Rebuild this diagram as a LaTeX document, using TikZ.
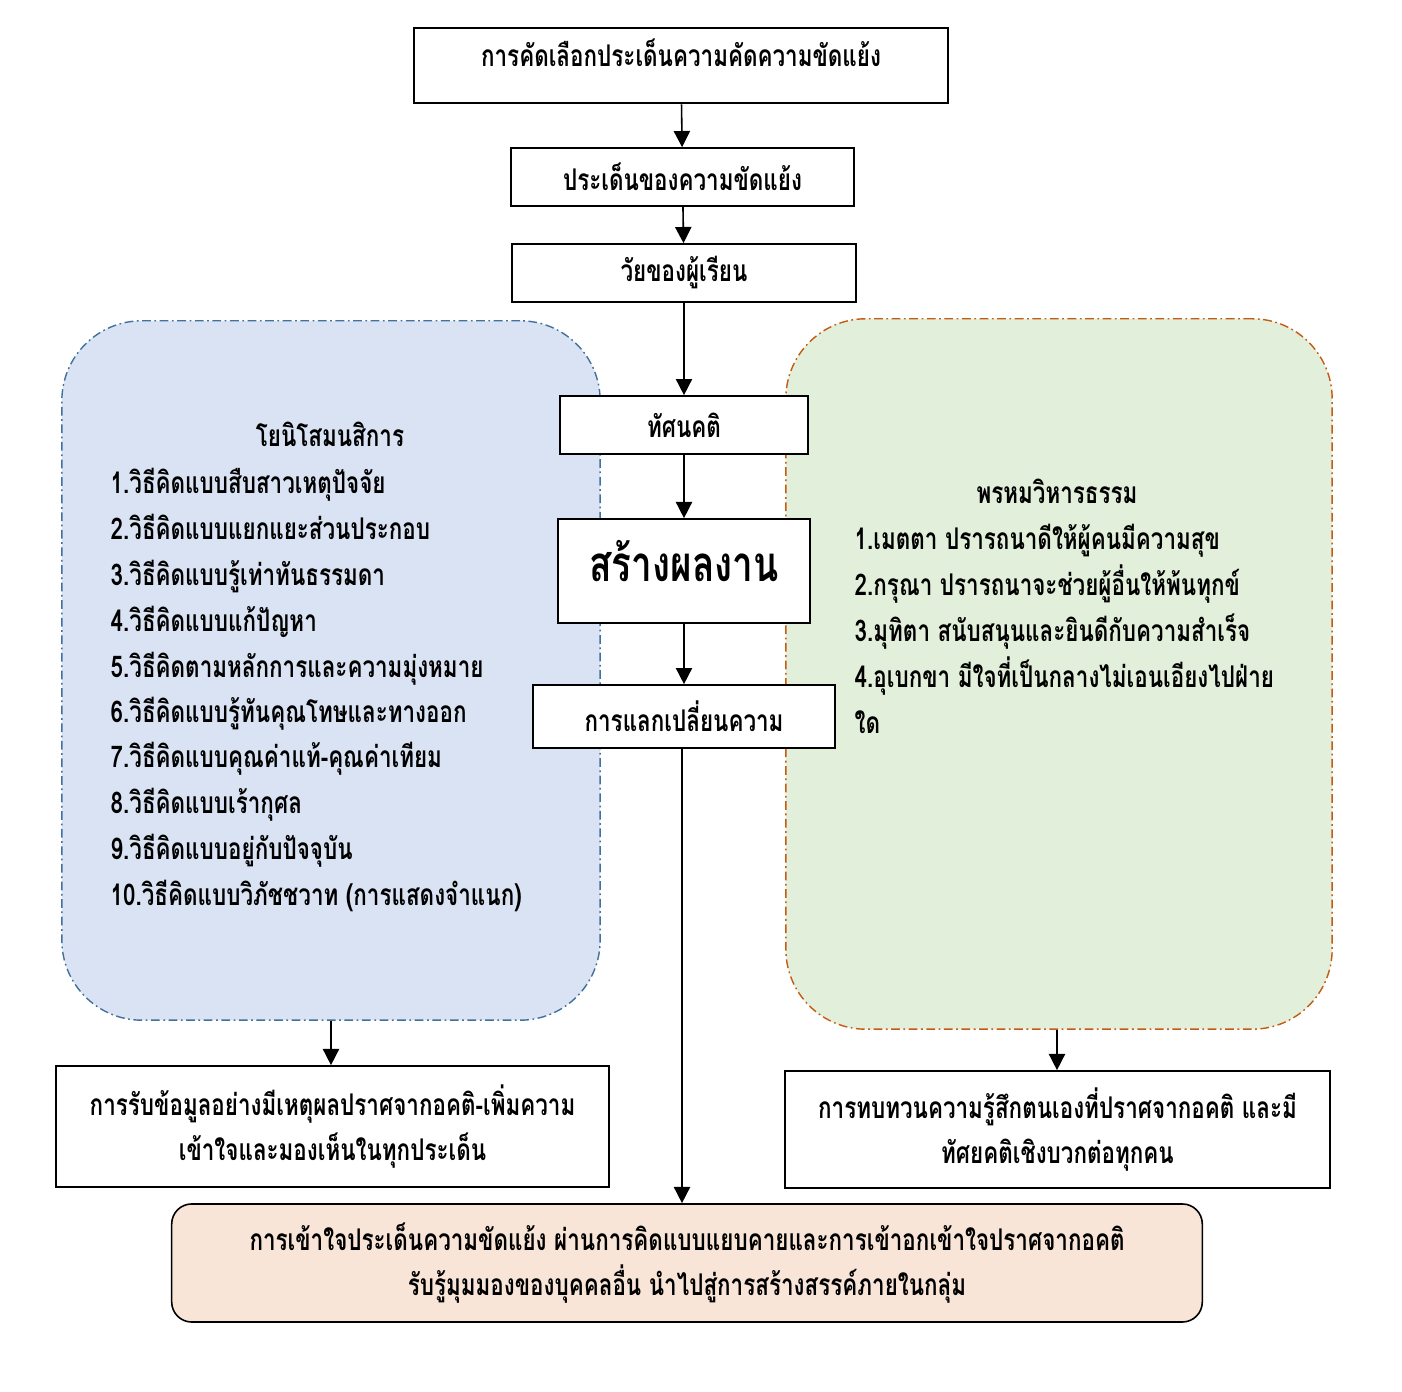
\documentclass[tikz,border=0pt]{standalone}
\usepackage{fontspec}
\newfontfamily\thaifont[Script=Thai,FakeStretch=0.75]{Loma}
\usetikzlibrary{arrows.meta}

\definecolor{yonisofill}{HTML}{DAE3F3}
\definecolor{yonisoline}{HTML}{41719C}
\definecolor{brahmafill}{HTML}{E2EFDA}
\definecolor{brahmaline}{HTML}{C55A11}
\definecolor{resultfill}{HTML}{F8E5D8}

\begin{document}
\begin{tikzpicture}[x=0.01cm,y=-0.01cm,
    font=\thaifont\bfseries\fontsize{8.5}{12.8}\selectfont,
    box/.style={draw,line width=0.45pt,fill=white,inner sep=2pt,align=center},
    txt/.style={inner sep=0pt},
    panel/.style={rounded corners=0.8cm,line width=0.4pt,
        dash pattern=on 2.5pt off 1pt on 0.5pt off 1pt},
    flow/.style={-{Triangle[width=4.6pt,length=4.6pt]},line width=0.45pt}]
    \useasboundingbox (0,0) rectangle (1402,1392);

    %% the two panels at the sides
    \node[panel,fill=yonisofill,draw=yonisoline,minimum width=5.38cm,minimum height=6.99cm] (yoniso) at (331,670.5) {};
    \node[panel,fill=brahmafill,draw=brahmaline,minimum width=5.46cm,minimum height=7.10cm] (brahma) at (1059,674) {};

    %% main column
    \node[box,line width=0.75pt,minimum width=5.34cm,minimum height=0.75cm,text height=0.17cm,text depth=0.14cm] (select) at (681,65.5) {การคัดเลือกประเด็นความคัดความขัดแย้ง};
    \node[box,minimum width=3.43cm,minimum height=0.58cm] (issue) at (682.5,177) {ประเด็นของความขัดแย้ง};
    \node[box,minimum width=3.44cm,minimum height=0.58cm] (age) at (684,273) {วัยของผู้เรียน};
    \node[box,minimum width=2.48cm,minimum height=0.58cm] (attitude) at (684,425) {ทัศนคติ};
    \node[box,minimum width=2.52cm,minimum height=1.04cm,text depth=0.2cm,font=\thaifont\bfseries\fontsize{14}{17}\selectfont] (work) at (684,571) {สร้างผลงาน};
    \node[box,minimum width=3.02cm,minimum height=0.63cm] (share) at (684,716.5) {การแลกเปลี่ยนความ};

    %% left panel text
    \node[txt,anchor=base] (yonisotitle) at (330,447) {โยนิโสมนสิการ};
    \node[txt,anchor=base west] (way1) at (110,494) {1.วิธีคิดแบบสืบสาวเหตุปัจจัย};
    \node[txt,anchor=base west] (way2) at (110,540) {2.วิธีคิดแบบแยกแยะส่วนประกอบ};
    \node[txt,anchor=base west] (way3) at (110,586) {3.วิธีคิดแบบรู้เท่าทันธรรมดา};
    \node[txt,anchor=base west] (way4) at (110,632) {4.วิธีคิดแบบแก้ปัญหา};
    \node[txt,anchor=base west] (way5) at (110,678) {5.วิธีคิดตามหลักการและความมุ่งหมาย};
    \node[txt,anchor=base west] (way6) at (110,723) {6.วิธีคิดแบบรู้ทันคุณโทษและทางออก};
    \node[txt,anchor=base west] (way7) at (110,768) {7.วิธีคิดแบบคุณค่าแท้-คุณค่าเทียม};
    \node[txt,anchor=base west] (way8) at (110,814) {8.วิธีคิดแบบเร้ากุศล};
    \node[txt,anchor=base west] (way9) at (110,860) {9.วิธีคิดแบบอยู่กับปัจจุบัน};
    \node[txt,anchor=base west] (way10) at (110,906) {10.วิธีคิดแบบวิภัชชวาท (การแสดงจำแนก)};

    %% right panel text
    \node[txt,anchor=base] (brahmatitle) at (1057,504) {พรหมวิหารธรรม};
    \node[txt,anchor=base west] (virtue1) at (854,550) {1.เมตตา ปรารถนาดีให้ผู้คนมีความสุข};
    \node[txt,anchor=base west] (virtue2) at (854,596) {2.กรุณา ปรารถนาจะช่วยผู้อื่นให้พ้นทุกข์};
    \node[txt,anchor=base west] (virtue3) at (854,642) {3.มุทิตา สนับสนุนและยินดีกับความสำเร็จ};
    \node[txt,anchor=base west] (virtue4) at (854,688) {4.อุเบกขา มีใจที่เป็นกลางไม่เอนเอียงไปฝ่าย};
    \node[txt,anchor=base west] (virtue4b) at (854,734) {ใด};

    %% outcome boxes
    \node[box,minimum width=5.53cm,minimum height=1.21cm] (reason) at (332.5,1126.5) {การรับข้อมูลอย่างมีเหตุผลปราศจากอคติ-เพิ่มความ\\เข้าใจและมองเห็นในทุกประเด็น};
    \node[box,minimum width=5.45cm,minimum height=1.17cm] (review) at (1057.5,1129.5) {การทบทวนความรู้สึกตนเองที่ปราศจากอคติ และมี\\ทัศยคติเชิงบวกต่อทุกคน};
    \node[box,fill=resultfill,rounded corners=0.2cm,minimum width=10.30cm,minimum height=1.18cm] (result) at (687,1263) {การเข้าใจประเด็นความขัดแย้ง ผ่านการคิดแบบแยบคายและการเข้าอกเข้าใจปราศจากอคติ\\รับรู้มุมมองของบุคคลอื่น นำไปสู่การสร้างสรรค์ภายในกลุ่ม};

    %% arrows
    \draw[flow] (select) -- (issue);
    \draw[flow] (issue) -- (age);
    \draw[flow] (age) -- (attitude);
    \draw[flow] (attitude) -- (work);
    \draw[flow] (work) -- (share);
    \draw[flow] (share.south -| 682,0) -- (result.north -| 682,0);
    \draw[flow] (yoniso.south -| 331,0) -- (reason.north -| 331,0);
    \draw[flow] (brahma.south -| 1057,0) -- (review.north -| 1057,0);
\end{tikzpicture}
\end{document}
